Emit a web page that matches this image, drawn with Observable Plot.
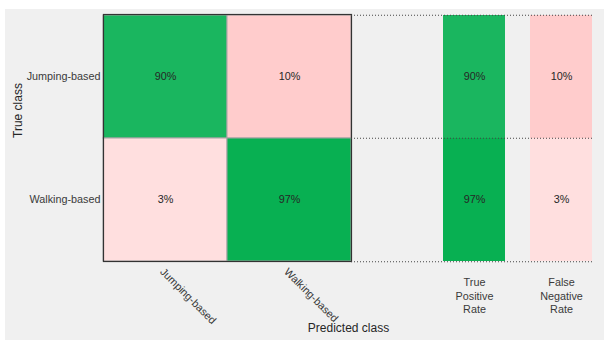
<!DOCTYPE html>
<html>
<head>
<meta charset="utf-8">
<script src="https://cdn.jsdelivr.net/npm/d3@7"></script>
<script src="https://cdn.jsdelivr.net/npm/@observablehq/plot@0.6"></script>
<style>
  html, body { margin: 0; padding: 0; background: #ffffff; }
  #wrap { position: relative; width: 604px; height: 340px; overflow: hidden; font-family: "Liberation Sans", Arial, sans-serif; }
  #panel { position: absolute; left: 5px; top: 9px; width: 599px; height: 331px; background: #f0f0f0; }
  #wrap svg { position: absolute; left: 0; top: 0; }
</style>
</head>
<body>
<div id="wrap"><div id="panel"></div></div>
<script>
// ---- data ----
const classes = ["Jumping-based", "Walking-based"];           // true (rows) & predicted (columns)
const matrixRows = [[90, 10], [3, 97]];                        // percent, row-normalized
const truePositiveRate = [90, 97];
const falseNegativeRate = [10, 3];
const summaryLabels = ["True Positive Rate", "False Negative Rate"];
const xTitle = "Predicted class";
const yTitle = "True class";

// ---- derived tables ----
const cells = [];
classes.forEach((t, i) => classes.forEach((p, j) => cells.push({truth: t, pred: p, value: matrixRows[i][j], diag: i === j})));
const summary = [];
classes.forEach((t, i) => {
  summary.push({metric: summaryLabels[0], truth: t, value: truePositiveRate[i], diag: true});
  summary.push({metric: summaryLabels[1], truth: t, value: falseNegativeRate[i], diag: false});
});

// ---- colours ----
const goodColor = d3.scaleLinear().domain([0, 100]).range(["#ffffff", "#00ae4d"]);
const badColor = d3.scaleLinear().domain([3, 10]).range(["#ffdfdf", "#ffcccc"]);
const fillOf = d => d.diag ? goodColor(d.value) : badColor(d.value);

const W = 604, H = 340, mTop = 14, mBottom = 79;
const rowBand = (H - mTop - mBottom) / 2;
const font = "'Liberation Sans', Arial, sans-serif";
const ink = "#262626";
const tickInk = "#3a3a3a";
const fs = 10.8;

const main = Plot.plot({
  width: W, height: H,
  marginLeft: 103, marginRight: 253, marginTop: mTop, marginBottom: mBottom,
  style: {background: "transparent", fontFamily: font, fontSize: fs + "px", color: ink, overflow: "visible"},
  x: {domain: classes, padding: 0, axis: null},
  y: {domain: classes, padding: 0, axis: null},
  marks: [
    Plot.cell(cells, {x: "pred", y: "truth", fill: fillOf, stroke: "#a3a3a3", strokeWidth: 1, inset: 0}),
    Plot.text(cells, {x: "pred", y: "truth", text: d => d.value + "%", fill: ink, fontSize: fs}),
    Plot.frame({stroke: "#333333", strokeWidth: 1.2}),
    Plot.text(classes, {y: d => d, frameAnchor: "left", textAnchor: "end", dx: -3, fill: tickInk, fontSize: fs}),
    Plot.text(classes, {x: d => d, frameAnchor: "bottom", textAnchor: "start", rotate: 45, dx: -6, dy: 11, fill: tickInk, fontSize: fs}),
    Plot.text([yTitle], {frameAnchor: "left", rotate: -90, dx: -85, fill: ink, fontSize: 12}),
    Plot.text([xTitle], {frameAnchor: "bottom", dx: 121, dy: 70, fill: ink, fontSize: 12})
  ]
});

const side = Plot.plot({
  width: W, height: H,
  marginLeft: 351, marginRight: 11, marginTop: mTop, marginBottom: mBottom,
  style: {background: "transparent", fontFamily: font, fontSize: fs + "px", color: ink, overflow: "visible"},
  x: {domain: summaryLabels, range: [443, 593], paddingInner: 0.286, paddingOuter: 0, axis: null},
  y: {domain: classes, padding: 0, axis: null},
  marks: [
    Plot.cell(summary, {x: "metric", y: "truth", fill: fillOf, inset: 0}),
    Plot.text(summary, {x: "metric", y: "truth", text: d => d.value + "%", fill: ink, fontSize: fs}),
    Plot.ruleY(classes, {y: d => d, dy: -rowBand / 2, stroke: "#444", strokeDasharray: "1,2"}),
    Plot.ruleY(classes.slice(-1), {y: d => d, dy: rowBand / 2, stroke: "#444", strokeDasharray: "1,2"}),
    Plot.text(summaryLabels, {x: d => d, frameAnchor: "bottom", text: d => d.split(" ").join("\n"), lineAnchor: "top", dy: 15, lineHeight: 1.25, fill: tickInk, fontSize: fs})
  ]
});

document.getElementById("wrap").append(main, side);
</script>
</body>
</html>
